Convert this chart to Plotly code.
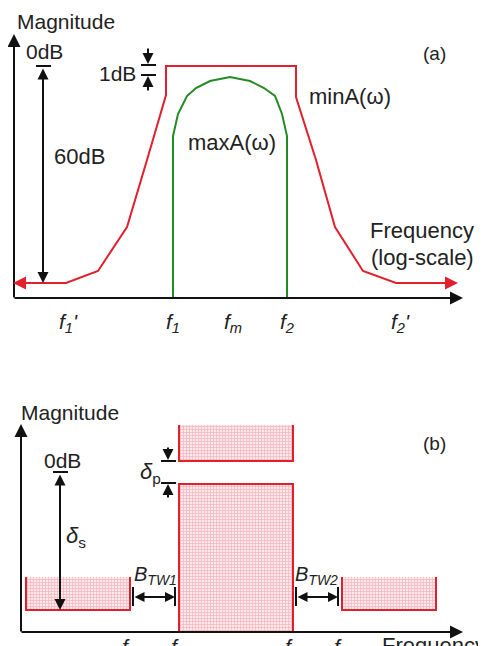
import plotly.graph_objects as go

# ---------------- schematic data (diagram units: x = frequency position, y = magnitude position, downwards) ----------------
# Panel (a)
minA_x = [14, 66, 98, 127, 147, 166, 166, 296, 296, 316, 335, 363, 396, 456]
minA_y = [283, 283, 271, 227, 160, 95, 66, 66, 97, 160, 227, 271, 283, 283]
maxA_x = [173, 173, 178, 187, 196, 210, 230, 250, 264, 275, 282, 287, 287]
maxA_y = [298, 136, 114, 96, 88, 81, 77, 81, 88, 96, 114, 136, 298]
ticks_a_x = [68, 173, 233, 287, 400]
ticks_a_lbl = ["<i>f<sub>1</sub>'</i>", "<i>f<sub>1</sub></i>", "<i>f<sub>m</sub></i>",
               "<i>f<sub>2</sub></i>", "<i>f<sub>2</sub>'</i>"]

# Panel (b): boxes (x0, x1, y_top, y_bottom)
stop1 = [26, 130, 577, 610]
stop2 = [342, 436, 577, 610]
passband = [179, 293, 484, 632]
ripple = [179, 293, 425, 461]
ticks_b_x = [126, 175, 289, 338]
ticks_b_lbl = ["<i>f</i>", "<i>f</i>", "<i>f</i>", "<i>f</i>"]

RED = "#e0202c"
GREEN = "#228b22"
BLACK = "#111111"
TXT = "#222222"
FONT = "Liberation Sans"

# the page body has an 8px margin: the figure is shrunk by it and its ranges start at 8
PAGE_W, PAGE_H, BODY = 486, 646, 8

fig = go.Figure()

# ---- panel (a) curves ----
fig.add_trace(go.Scatter(x=minA_x, y=minA_y, mode="lines",
                         line=dict(color=RED, width=2), hoverinfo="skip"))
fig.add_trace(go.Scatter(x=maxA_x, y=maxA_y, mode="lines",
                         line=dict(color=GREEN, width=2), hoverinfo="skip"))

# ---- panel (b) hatched boxes ----
pattern = dict(shape="+", size=3, solidity=0.45, fgcolor="#ec8593", bgcolor="#fde9ec")


def box_fill(b):
    x0, x1, yt, yb = b
    fig.add_trace(go.Scatter(x=[x0, x1, x1, x0, x0], y=[yt, yt, yb, yb, yt],
                             mode="lines", fill="toself", line=dict(width=0),
                             fillcolor="#fbd9de", fillpattern=pattern, hoverinfo="skip"))


def open_top(b):
    x0, x1, yt, yb = b
    fig.add_trace(go.Scatter(x=[x0, x0, x1, x1], y=[yt, yb, yb, yt], mode="lines",
                             line=dict(color=RED, width=2), hoverinfo="skip"))


def open_bottom(b):
    x0, x1, yt, yb = b
    fig.add_trace(go.Scatter(x=[x0, x0, x1, x1], y=[yb, yt, yt, yb], mode="lines",
                             line=dict(color=RED, width=2), hoverinfo="skip"))


for b in (stop1, stop2, passband, ripple):
    box_fill(b)
open_top(stop1)
open_top(stop2)
open_top(ripple)
open_bottom(passband)

shapes = []
anns = []


def line(x0, y0, x1, y1, color=BLACK, w=2):
    shapes.append(dict(type="line", xref="x", yref="y", x0=x0, y0=y0, x1=x1, y1=y1,
                       line=dict(color=color, width=w)))


def arrow(xt, yt, xs, ys, color=BLACK, side="end", w=2, size=1.0, head=2):
    anns.append(dict(x=xt, y=yt, ax=xs, ay=ys, xref="x", yref="y", axref="x", ayref="y",
                     text="", showarrow=True, arrowhead=head, arrowsize=size, arrowwidth=w,
                     arrowcolor=color, arrowside=side, startarrowhead=head,
                     startarrowsize=size, standoff=0, startstandoff=0))


def text(x, y, s, size=20, xanchor="center", yanchor="middle"):
    anns.append(dict(x=x, y=y, xref="x", yref="y", text=s, showarrow=False,
                     xanchor=xanchor, yanchor=yanchor,
                     font=dict(family=FONT, size=size, color=TXT)))


# ---- panel (a) axes ----
arrow(14, 34, 14, 299, head=2, size=1.3)
arrow(463, 298, 13, 298, head=2, size=1.3)
# red end arrows
arrow(13, 283, 40, 283, color=RED, size=1.3)
arrow(458, 283, 430, 283, color=RED, size=1.3)
# 0dB / 60dB
line(36, 66, 51, 66)
arrow(43, 283, 43, 67, side="end+start", size=1.1)
# 1dB markers
line(141, 65, 156, 65)
arrow(148, 64, 148, 47, size=1.1)
line(141, 75, 156, 75)
arrow(148, 76, 148, 92, size=1.1)

text(15, 21, "Magnitude", 21, xanchor="left")
text(44, 51, "0dB", 21)
text(79, 156, "60dB", 22)
text(117, 73, "1dB", 21)
text(232, 142, "maxA(ω)", 22)
text(350, 96, "minA(ω)", 22)
text(434, 53, "(a)", 19)
text(422, 230, "Frequency", 22)
text(422, 257, "(log-scale)", 22)
for xv, lb in zip(ticks_a_x, ticks_a_lbl):
    text(xv, 323, lb, 21)

# ---- panel (b) axes ----
arrow(21, 424, 21, 633, head=2, size=1.3)
arrow(463, 632, 20, 632, head=2, size=1.3)
# 0dB / delta_s
line(53, 472, 68, 472)
arrow(60, 610, 60, 473, side="end+start", size=1.1)
# delta_p
line(161, 461, 176, 461)
arrow(168, 460, 168, 446, size=1.1)
line(161, 483, 176, 483)
arrow(168, 484, 168, 499, size=1.1)
# transition bands
line(133, 587, 133, 606)
line(175, 587, 175, 606)
arrow(175, 597, 133, 597, side="end+start", size=1.0)
line(296, 587, 296, 606)
line(338, 587, 338, 606)
arrow(338, 597, 296, 597, side="end+start", size=1.0)

text(19, 412, "Magnitude", 21, xanchor="left")
text(62, 460, "0dB", 21)
text(76, 537, "<i>δ</i><sub>s</sub>", 22)
text(150, 473, "<i>δ</i><sub>p</sub>", 22)
text(155, 575, "<i>B<sub>TW1</sub></i>", 20)
text(316, 575, "<i>B<sub>TW2</sub></i>", 20)
text(434, 443, "(b)", 19)
for xv, lb in zip(ticks_b_x, ticks_b_lbl):
    text(xv, 633, lb, 21, yanchor="top")
text(380, 631, "Frequency", 22, xanchor="left", yanchor="top")

fig.update_layout(
    width=PAGE_W - BODY, height=PAGE_H - BODY,
    margin=dict(l=0, r=0, t=0, b=0),
    paper_bgcolor="white", plot_bgcolor="white",
    showlegend=False,
    shapes=shapes, annotations=anns,
    xaxis=dict(range=[BODY, PAGE_W], visible=False, fixedrange=True),
    yaxis=dict(range=[PAGE_H, BODY], visible=False, fixedrange=True),
)

fig.write_html("out.html")
